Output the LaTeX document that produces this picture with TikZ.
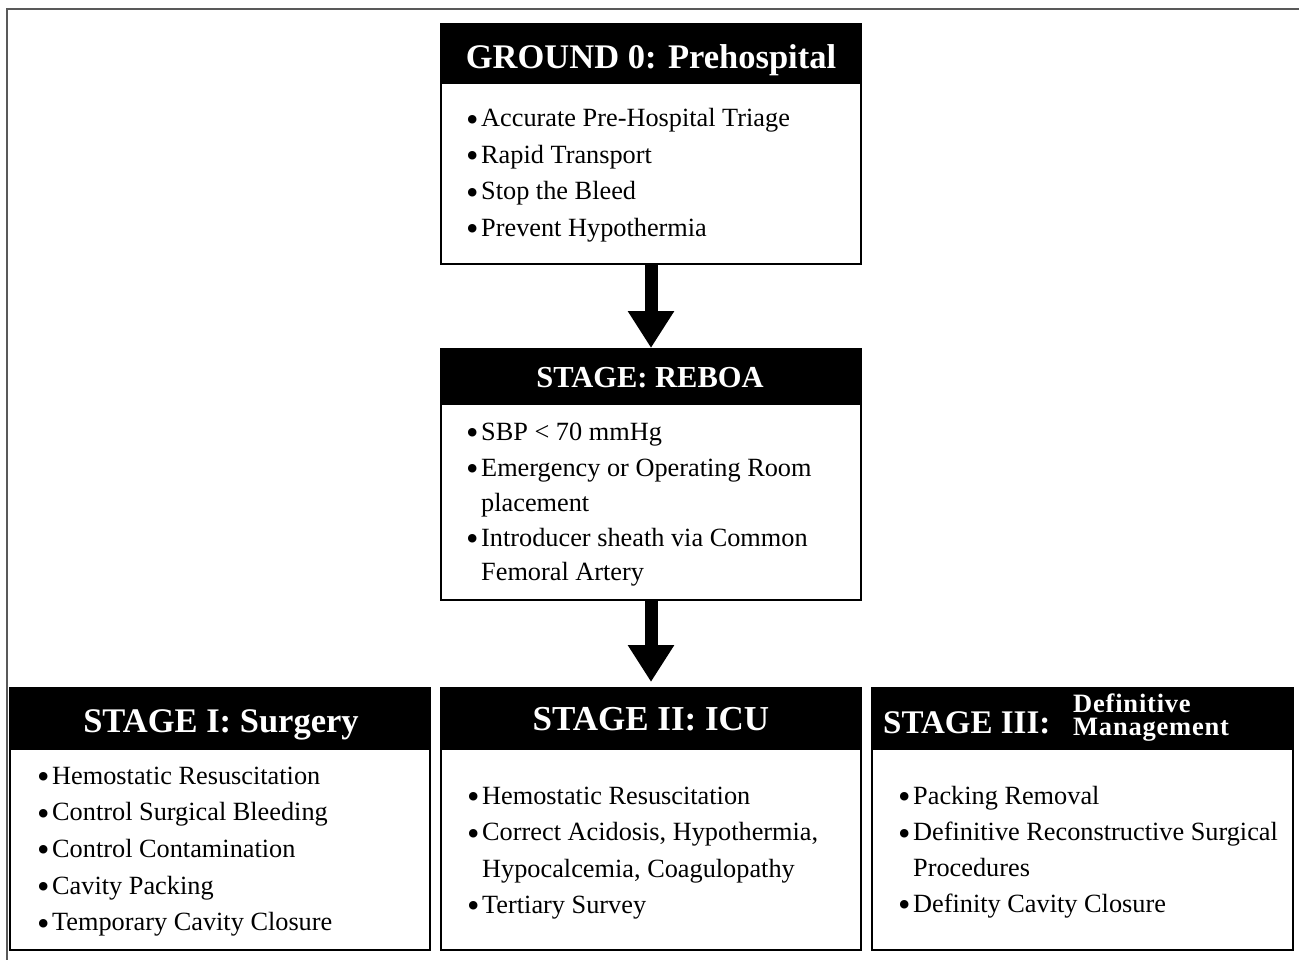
\documentclass[tikz,border=0pt]{standalone}
\usepackage{fontspec}
\setmainfont{Liberation Serif}
\usetikzlibrary{arrows.meta}
\newcommand\bul{\makebox[15pt][l]{\raisebox{-4.5pt}{\scalebox{1.35}{\textbullet}}}}
\tikzset{
  boxframe/.style={draw=black, line width=2.2pt, fill=white, inner sep=0pt, outer sep=0pt, anchor=north west},
  boxhead/.style={fill=black, inner sep=0pt, outer sep=0pt, anchor=north west},
  ttl/.style={text=white, font=\bfseries\fontsize{#1}{#1}\selectfont, inner sep=0pt, anchor=base},
  itm/.style={font=\fontsize{26.3}{30}\selectfont, inner sep=0pt, anchor=base west},
  bigarrow/.style={line width=13pt, -{Triangle[width=44pt,length=37pt]}},
  outerframe/.style={draw=black!65, line width=1.6pt},
}
\begin{document}
\begin{tikzpicture}[x=1pt,y=-1pt]
\useasboundingbox (0,0) rectangle (1299,960);
\fill[white] (0,0) rectangle (1299,960);
\draw[outerframe] (7,962) -- (7,9) -- (1301,9);

% boxes
\node[boxframe, minimum width=420pt, minimum height=240pt] (g0) at (441,24) {};
\node[boxhead, minimum width=420pt, minimum height=60pt] (g0h) at (441,24) {};
\node[boxframe, minimum width=420pt, minimum height=251pt] (rb) at (441,349) {};
\node[boxhead, minimum width=420pt, minimum height=56pt] (rbh) at (441,349) {};
\node[boxframe, minimum width=420pt, minimum height=262pt] (s1) at (10,688) {};
\node[boxhead, minimum width=420pt, minimum height=62pt] (s1h) at (10,688) {};
\node[boxframe, minimum width=420pt, minimum height=262pt] (s2) at (441,688) {};
\node[boxhead, minimum width=420pt, minimum height=62pt] (s2h) at (441,688) {};
\node[boxframe, minimum width=421pt, minimum height=262pt] (s3) at (872,688) {};
\node[boxhead, minimum width=421pt, minimum height=62pt] (s3h) at (872,688) {};

% arrows
\draw[bigarrow, shorten >=1pt] (g0.south) -- (rbh.north);
\draw[bigarrow, shorten >=6pt] (rb.south) -- (s2h.north);

% titles
\node[ttl=34.5] (g0t) at (651,68.5) {GROUND 0: Prehospital};
\node[ttl=30.5] (rbt) at (650,387) {STAGE: REBOA};
\node[ttl=34.5] (s1t) at (221,732) {STAGE I: Surgery};
\node[ttl=35] (s2t) at (651,730) {STAGE II: ICU};
\node[ttl=33, anchor=base west] (s3t) at (883,733) {STAGE III:};
\node[text=white, font=\bfseries\fontsize{26.5}{23}\selectfont\addfontfeature{LetterSpace=3}, inner sep=0pt, anchor=base west, align=left] (s3a) at (1073,735) {Definitive\\Management};

% ground 0 items
\node[itm] (g1) at (466,127) {\bul Accurate Pre-Hospital Triage};
\node[itm] (g2) at (466,163.5) {\bul Rapid Transport};
\node[itm] (g3) at (466,200) {\bul Stop the Bleed};
\node[itm] (g4) at (466,236.5) {\bul Prevent Hypothermia};

% reboa items
\node[itm] (r1) at (466,440) {\bul SBP < 70 mmHg};
\node[itm] (r2) at (466,476) {\bul Emergency or Operating Room};
\node[itm] (r2b) at (481,511) {placement};
\node[itm] (r3) at (466,546) {\bul Introducer sheath via Common};
\node[itm] (r3b) at (481,580.5) {Femoral Artery};

% stage I items
\node[itm] (a1) at (37,784) {\bul Hemostatic Resuscitation};
\node[itm] (a2) at (37,820.7) {\bul Control Surgical Bleeding};
\node[itm] (a3) at (37,857.4) {\bul Control Contamination};
\node[itm] (a4) at (37,894.1) {\bul Cavity Packing};
\node[itm] (a5) at (37,930.8) {\bul Temporary Cavity Closure};

% stage II items
\node[itm] (b1) at (467,804) {\bul Hemostatic Resuscitation};
\node[itm] (b2) at (467,840.5) {\bul Correct Acidosis, Hypothermia,};
\node[itm] (b2b) at (482,877) {Hypocalcemia, Coagulopathy};
\node[itm] (b3) at (467,913) {\bul Tertiary Survey};

% stage III items
\node[itm] (c1) at (898,804) {\bul Packing Removal};
\node[itm] (c2) at (898,840.5) {\bul Definitive Reconstructive Surgical};
\node[itm] (c2b) at (913,876.5) {Procedures};
\node[itm] (c3) at (898,912) {\bul Definity Cavity Closure};
\end{tikzpicture}
\end{document}
